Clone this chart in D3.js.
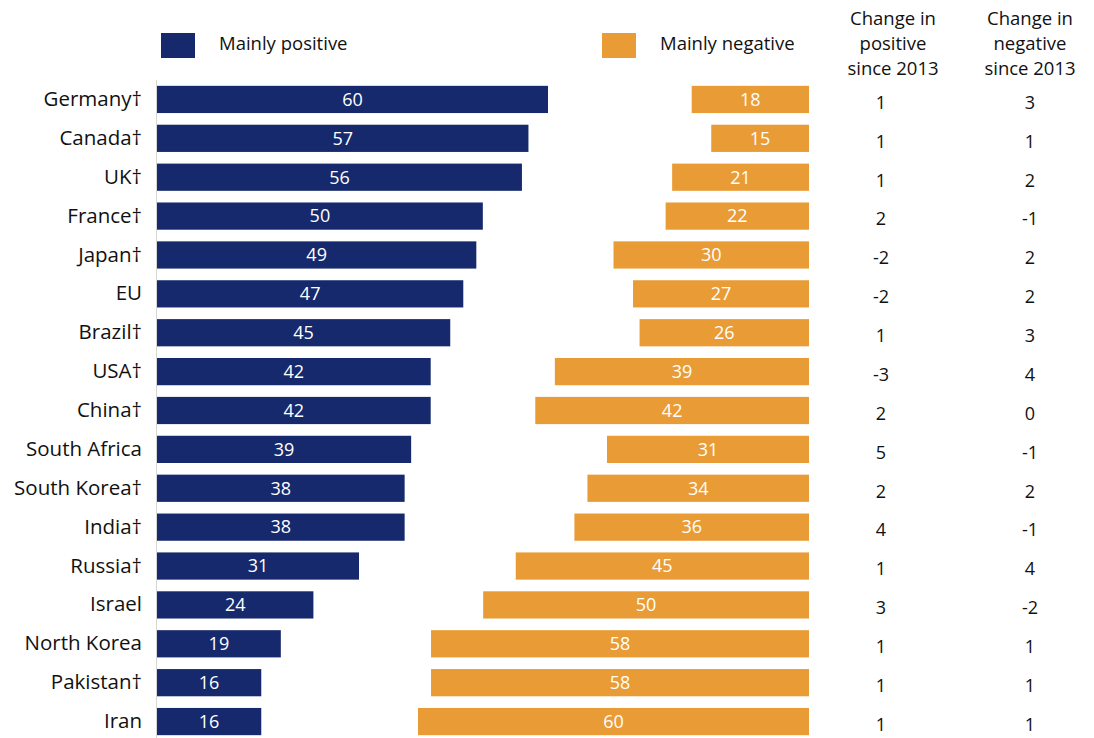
<!DOCTYPE html>
<html>
<head>
<meta charset="utf-8">
<script src="https://cdn.jsdelivr.net/npm/d3@7"></script>
<style>
  body { margin: 0; background: #fff; }
  svg { display: block; font-family: "Open Sans", "Noto Sans", sans-serif; }
</style>
</head>
<body>
<svg width="1094" height="738"></svg>
<script>
// data
var countries = ['Germany†', 'Canada†', 'UK†', 'France†', 'Japan†', 'EU', 'Brazil†', 'USA†', 'China†',
  'South Africa', 'South Korea†', 'India†', 'Russia†', 'Israel', 'North Korea', 'Pakistan†', 'Iran'];
var positive = [60, 57, 56, 50, 49, 47, 45, 42, 42, 39, 38, 38, 31, 24, 19, 16, 16];
var negative = [18, 15, 21, 22, 30, 27, 26, 39, 42, 31, 34, 36, 45, 50, 58, 58, 60];
var changePos = [1, 1, 1, 2, -2, -2, 1, -3, 2, 5, 2, 4, 1, 3, 1, 1, 1];
var changeNeg = [3, 1, 2, -1, 2, 2, 3, 4, 0, -1, 2, -1, 4, -2, 1, 1, 1];
var seriesNames = ['Mainly positive', 'Mainly negative'];
var colHeaders = [['Change in', 'positive', 'since 2013'], ['Change in', 'negative', 'since 2013']];

var blue = '#15296c', orange = '#e99b35';

var svg = d3.select('svg');

var data = countries.map(function(c, i) {
  return {name: c, pos: positive[i], neg: negative[i], cp: changePos[i], cn: changeNeg[i]};
});

var y = d3.scaleBand()
  .domain(countries)
  .range([80, 741])
  .paddingInner(0.3)
  .paddingOuter(0.15);

// both bars share the same unit length
var xPos = d3.scaleLinear().domain([0, 60]).range([157, 548]);
var xNeg = d3.scaleLinear().domain([0, 60]).range([809, 418]);

// category axis
var yAxis = svg.append('g')
  .attr('transform', 'translate(156,0)')
  .call(d3.axisLeft(y).tickSize(0).tickPadding(14));
yAxis.select('.domain').attr('stroke', '#d6d6d6').attr('d', 'M0.5,80V738');
yAxis.selectAll('text')
  .attr('font-size', 20.5)
  .attr('fill', '#111')
  .style('font-family', '"Open Sans", "Noto Sans", sans-serif');

var rows = svg.append('g').selectAll('g')
  .data(data)
  .enter().append('g');

rows.append('rect')
  .attr('x', xPos(0))
  .attr('y', function(d) { return y(d.name); })
  .attr('width', function(d) { return xPos(d.pos) - xPos(0); })
  .attr('height', y.bandwidth())
  .attr('fill', blue);

rows.append('rect')
  .attr('x', function(d) { return xNeg(d.neg); })
  .attr('y', function(d) { return y(d.name); })
  .attr('width', function(d) { return xNeg(0) - xNeg(d.neg); })
  .attr('height', y.bandwidth())
  .attr('fill', orange);

var mid = function(d) { return y(d.name) + y.bandwidth() / 2; };

rows.append('text')
  .attr('x', function(d) { return (xPos(0) + xPos(d.pos)) / 2; })
  .attr('y', mid)
  .attr('dy', '0.35em')
  .attr('text-anchor', 'middle')
  .attr('fill', '#fff')
  .attr('font-size', 18)
  .text(function(d) { return d.pos; });

rows.append('text')
  .attr('x', function(d) { return (xNeg(0) + xNeg(d.neg)) / 2; })
  .attr('y', mid)
  .attr('dy', '0.35em')
  .attr('text-anchor', 'middle')
  .attr('fill', '#fff')
  .attr('font-size', 18)
  .text(function(d) { return d.neg; });

rows.append('text')
  .attr('x', 881)
  .attr('y', function(d) { return mid(d) + 3; })
  .attr('dy', '0.35em')
  .attr('text-anchor', 'middle')
  .attr('fill', '#111')
  .attr('font-size', 18)
  .text(function(d) { return d.cp; });

rows.append('text')
  .attr('x', 1030)
  .attr('y', function(d) { return mid(d) + 3; })
  .attr('dy', '0.35em')
  .attr('text-anchor', 'middle')
  .attr('fill', '#111')
  .attr('font-size', 18)
  .text(function(d) { return d.cn; });

// legend
var legend = svg.append('g').selectAll('g')
  .data(seriesNames)
  .enter().append('g')
  .attr('transform', function(d, i) { return 'translate(' + [161, 602][i] + ',33)'; });

legend.append('rect')
  .attr('width', 34)
  .attr('height', 25)
  .attr('fill', function(d, i) { return i ? orange : blue; });

legend.append('text')
  .attr('x', 58)
  .attr('y', 11)
  .attr('dy', '0.35em')
  .attr('font-size', 18.5)
  .attr('fill', '#111')
  .text(function(d) { return d; });

// column headers
svg.append('g').selectAll('text')
  .data(colHeaders)
  .enter().append('text')
  .attr('x', function(d, i) { return [893, 1030][i]; })
  .attr('text-anchor', 'middle')
  .attr('font-size', 18.5)
  .attr('fill', '#111')
  .selectAll('tspan')
  .data(function(d) { return d; })
  .enter().append('tspan')
  .attr('x', function() { return this.parentNode.getAttribute('x'); })
  .attr('y', function(d, i) { return 25 + i * 25; })
  .text(function(d) { return d; });
</script>
</body>
</html>
